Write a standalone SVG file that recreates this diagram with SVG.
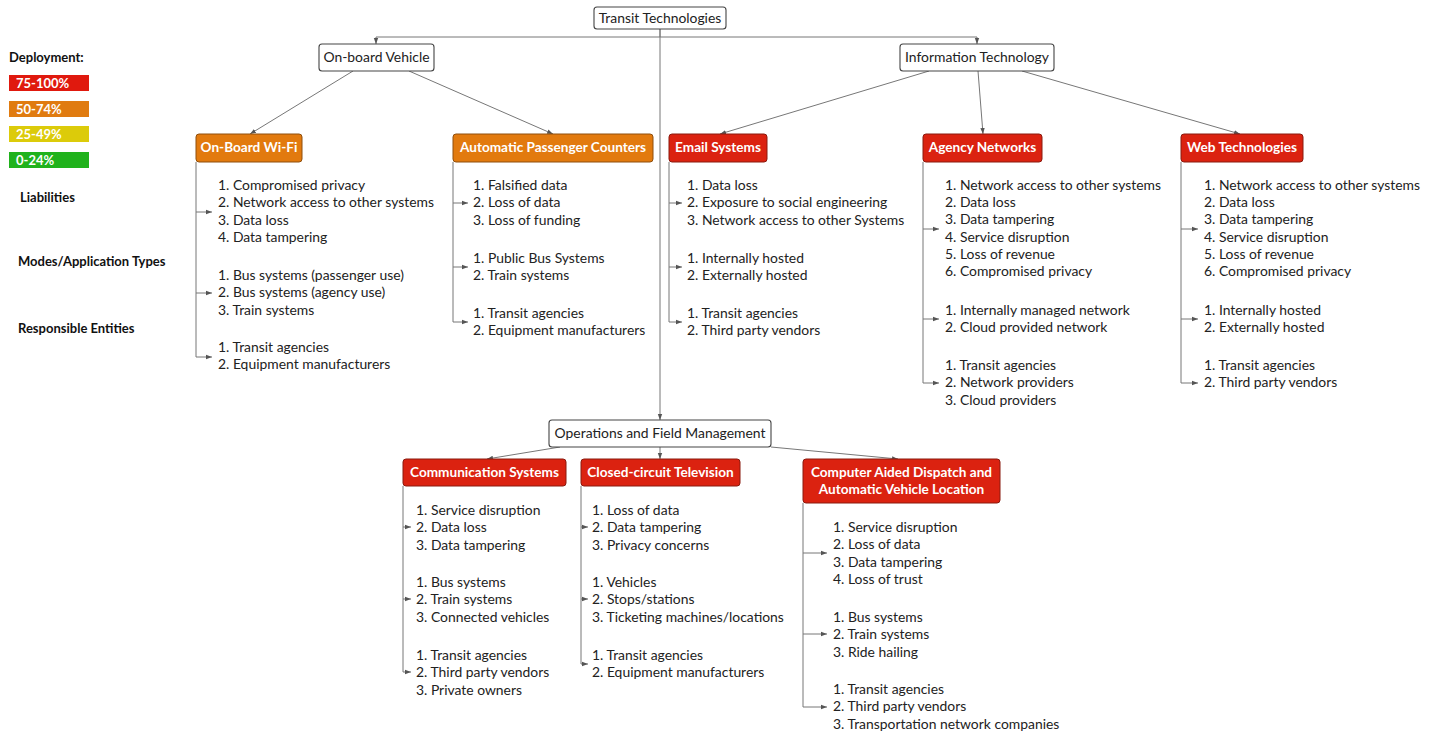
<svg xmlns="http://www.w3.org/2000/svg" width="1436" height="734" viewBox="0 0 1436 734">
<defs>
<marker id="ah" viewBox="0 0 6 6" refX="6" refY="3" markerWidth="6" markerHeight="6" orient="auto" markerUnits="userSpaceOnUse"><path d="M0,0.8 L6,3 L0,5.2 Z" fill="#555"/></marker>
<style>
text{font-family:"Lato","Liberation Sans",sans-serif;}
.t{font-size:13.9px;fill:#222;}
.n{fill:#fff;stroke:#444;stroke-width:1.1;}
.nt{font-size:13.9px;fill:#222;text-anchor:middle;}
.red{fill:#db2210;stroke:#8a1a0e;stroke-width:1;}
.org{fill:#e27a0e;stroke:#8f4e0c;stroke-width:1;}
.h{font-size:13.6px;font-weight:bold;fill:#fff;text-anchor:middle;}
.lg{font-size:13px;font-weight:bold;fill:#fff;}
.lb{font-size:13px;font-weight:bold;fill:#111;}
.c{fill:none;stroke:#777;stroke-width:1;}
.ca{fill:none;stroke:#777;stroke-width:1;marker-end:url(#ah);}
</style>
</defs>
<rect width="1436" height="734" fill="#fff"/>

<g id="legend">
<text class="lb" x="9" y="62">Deployment:</text>
<rect x="9" y="75" width="80" height="16" fill="#e0190e"/><text class="lg" x="16" y="88">75-100%</text>
<rect x="9" y="101" width="80" height="16" fill="#e07b10"/><text class="lg" x="16" y="114">50-74%</text>
<rect x="9" y="126" width="80" height="16" fill="#dccb0a"/><text class="lg" x="16" y="139">25-49%</text>
<rect x="9" y="152" width="80" height="16" fill="#20b21c"/><text class="lg" x="16" y="165">0-24%</text>
<text class="lb" x="20" y="202">Liabilities</text>
<text class="lb" x="18" y="266">Modes/Application Types</text>
<text class="lb" x="18" y="333">Responsible Entities</text>
</g>

<g id="connectors">
<path class="c" d="M660,29 V37"/>
<path class="ca" d="M660,37 H376 V44"/>
<path class="ca" d="M660,37 H977 V44"/>
<path class="ca" d="M660,29 V420"/>
<path class="ca" d="M353,71 L250,134"/>
<path class="ca" d="M409,71 L553,134"/>
<path class="ca" d="M929,71 L720,134"/>
<path class="ca" d="M978,71 L983,134"/>
<path class="ca" d="M1022,71 L1240,134"/>
<path class="ca" d="M560,447 L487,459"/>
<path class="ca" d="M660,447 V459"/>
<path class="ca" d="M771,447 L898,459"/>
<path class="c" d="M196,162 V357"/>
<path class="ca" d="M196,212 H212"/><path class="ca" d="M196,293 H212"/><path class="ca" d="M196,357 H212"/>
<path class="c" d="M453,162 V322"/>
<path class="ca" d="M453,203 H468"/><path class="ca" d="M453,267 H468"/><path class="ca" d="M453,322 H468"/>
<path class="c" d="M669,162 V322"/>
<path class="ca" d="M669,203 H682"/><path class="ca" d="M669,267 H682"/><path class="ca" d="M669,322 H682"/>
<path class="c" d="M923,162 V383"/>
<path class="ca" d="M923,229 H939"/><path class="ca" d="M923,319 H939"/><path class="ca" d="M923,383 H939"/>
<path class="c" d="M1181,162 V383"/>
<path class="ca" d="M1181,229 H1198"/><path class="ca" d="M1181,319 H1198"/><path class="ca" d="M1181,383 H1198"/>
<path class="c" d="M403,486 V672"/>
<path class="ca" d="M403,527 H411"/><path class="ca" d="M403,599 H411"/><path class="ca" d="M403,672 H411"/>
<path class="c" d="M581,486 V664"/>
<path class="ca" d="M581,527 H588"/><path class="ca" d="M581,599 H588"/><path class="ca" d="M581,664 H588"/>
<path class="c" d="M803,503 V707"/>
<path class="ca" d="M803,553 H827"/><path class="ca" d="M803,634 H827"/><path class="ca" d="M803,707 H827"/>
</g>

<g id="transit-technologies">
<rect class="n" x="594" y="7" width="132" height="22" rx="3"/>
<text class="nt" x="660" y="23">Transit Technologies</text>
</g>
<g id="on-board-vehicle">
<rect class="n" x="319" y="44" width="115" height="27" rx="3"/>
<text class="nt" x="376.5" y="62">On-board Vehicle</text>
</g>
<g id="information-technology">
<rect class="n" x="900" y="44" width="154" height="27" rx="3"/>
<text class="nt" x="977" y="62">Information Technology</text>
</g>
<g id="operations">
<rect class="n" x="549" y="420" width="222" height="27" rx="3"/>
<text class="nt" x="660" y="438">Operations and Field Management</text>
</g>

<g id="wifi">
<rect class="org" x="196" y="134" width="106" height="28" rx="3"/>
<text class="h" x="249" y="152">On-Board Wi-Fi</text>
<text class="t" x="218" y="190">
<tspan x="218" dy="0">1. Compromised privacy</tspan><tspan x="218" dy="17.3">2. Network access to other systems</tspan><tspan x="218" dy="17.3">3. Data loss</tspan><tspan x="218" dy="17.3">4. Data tampering</tspan>
</text>
<text class="t" x="218" y="280">
<tspan x="218" dy="0">1. Bus systems (passenger use)</tspan><tspan x="218" dy="17.3">2. Bus systems (agency use)</tspan><tspan x="218" dy="17.3">3. Train systems</tspan>
</text>
<text class="t" x="218" y="352">
<tspan x="218" dy="0">1. Transit agencies</tspan><tspan x="218" dy="17.3">2. Equipment manufacturers</tspan>
</text>
</g>

<g id="apc">
<rect class="org" x="453" y="134" width="200" height="28" rx="3"/>
<text class="h" x="553" y="152">Automatic Passenger Counters</text>
<text class="t" x="473" y="190">
<tspan x="473" dy="0">1. Falsified data</tspan><tspan x="473" dy="17.3">2. Loss of data</tspan><tspan x="473" dy="17.3">3. Loss of funding</tspan>
</text>
<text class="t" x="473" y="263">
<tspan x="473" dy="0">1. Public Bus Systems</tspan><tspan x="473" dy="17.3">2. Train systems</tspan>
</text>
<text class="t" x="473" y="318">
<tspan x="473" dy="0">1. Transit agencies</tspan><tspan x="473" dy="17.3">2. Equipment manufacturers</tspan>
</text>
</g>

<g id="email">
<rect class="red" x="669" y="134" width="98" height="28" rx="3"/>
<text class="h" x="718" y="152">Email Systems</text>
<text class="t" x="687" y="190">
<tspan x="687" dy="0">1. Data loss</tspan><tspan x="687" dy="17.3">2. Exposure to social engineering</tspan><tspan x="687" dy="17.3">3. Network access to other Systems</tspan>
</text>
<text class="t" x="687" y="263">
<tspan x="687" dy="0">1. Internally hosted</tspan><tspan x="687" dy="17.3">2. Externally hosted</tspan>
</text>
<text class="t" x="687" y="318">
<tspan x="687" dy="0">1. Transit agencies</tspan><tspan x="687" dy="17.3">2. Third party vendors</tspan>
</text>
</g>

<g id="agency-networks">
<rect class="red" x="923" y="134" width="119" height="28" rx="3"/>
<text class="h" x="982.5" y="152">Agency Networks</text>
<text class="t" x="945" y="190">
<tspan x="945" dy="0">1. Network access to other systems</tspan><tspan x="945" dy="17.2">2. Data loss</tspan><tspan x="945" dy="17.2">3. Data tampering</tspan><tspan x="945" dy="17.2">4. Service disruption</tspan><tspan x="945" dy="17.2">5. Loss of revenue</tspan><tspan x="945" dy="17.2">6. Compromised privacy</tspan>
</text>
<text class="t" x="945" y="315">
<tspan x="945" dy="0">1. Internally managed network</tspan><tspan x="945" dy="17.3">2. Cloud provided network</tspan>
</text>
<text class="t" x="945" y="370">
<tspan x="945" dy="0">1. Transit agencies</tspan><tspan x="945" dy="17.3">2. Network providers</tspan><tspan x="945" dy="17.3">3. Cloud providers</tspan>
</text>
</g>

<g id="web-technologies">
<rect class="red" x="1181" y="134" width="122" height="28" rx="3"/>
<text class="h" x="1242" y="152">Web Technologies</text>
<text class="t" x="1204" y="190">
<tspan x="1204" dy="0">1. Network access to other systems</tspan><tspan x="1204" dy="17.2">2. Data loss</tspan><tspan x="1204" dy="17.2">3. Data tampering</tspan><tspan x="1204" dy="17.2">4. Service disruption</tspan><tspan x="1204" dy="17.2">5. Loss of revenue</tspan><tspan x="1204" dy="17.2">6. Compromised privacy</tspan>
</text>
<text class="t" x="1204" y="315">
<tspan x="1204" dy="0">1. Internally hosted</tspan><tspan x="1204" dy="17.3">2. Externally hosted</tspan>
</text>
<text class="t" x="1204" y="370">
<tspan x="1204" dy="0">1. Transit agencies</tspan><tspan x="1204" dy="17.3">2. Third party vendors</tspan>
</text>
</g>

<g id="communication-systems">
<rect class="red" x="403" y="459" width="163" height="27" rx="3"/>
<text class="h" x="484.5" y="477">Communication Systems</text>
<text class="t" x="416" y="515">
<tspan x="416" dy="0">1. Service disruption</tspan><tspan x="416" dy="17.3">2. Data loss</tspan><tspan x="416" dy="17.3">3. Data tampering</tspan>
</text>
<text class="t" x="416" y="587">
<tspan x="416" dy="0">1. Bus systems</tspan><tspan x="416" dy="17.3">2. Train systems</tspan><tspan x="416" dy="17.3">3. Connected vehicles</tspan>
</text>
<text class="t" x="416" y="660">
<tspan x="416" dy="0">1. Transit agencies</tspan><tspan x="416" dy="17.3">2. Third party vendors</tspan><tspan x="416" dy="17.3">3. Private owners</tspan>
</text>
</g>

<g id="cctv">
<rect class="red" x="581" y="459" width="159" height="27" rx="3"/>
<text class="h" x="660.5" y="477">Closed-circuit Television</text>
<text class="t" x="592" y="515">
<tspan x="592" dy="0">1. Loss of data</tspan><tspan x="592" dy="17.3">2. Data tampering</tspan><tspan x="592" dy="17.3">3. Privacy concerns</tspan>
</text>
<text class="t" x="592" y="587">
<tspan x="592" dy="0">1. Vehicles</tspan><tspan x="592" dy="17.3">2. Stops/stations</tspan><tspan x="592" dy="17.3">3. Ticketing machines/locations</tspan>
</text>
<text class="t" x="592" y="660">
<tspan x="592" dy="0">1. Transit agencies</tspan><tspan x="592" dy="17.3">2. Equipment manufacturers</tspan>
</text>
</g>

<g id="cad-avl">
<rect class="red" x="803" y="459" width="197" height="44" rx="3"/>
<text class="h" x="901.5" y="477">Computer Aided Dispatch and</text>
<text class="h" x="901.5" y="494">Automatic Vehicle Location</text>
<text class="t" x="833" y="532">
<tspan x="833" dy="0">1. Service disruption</tspan><tspan x="833" dy="17.3">2. Loss of data</tspan><tspan x="833" dy="17.3">3. Data tampering</tspan><tspan x="833" dy="17.3">4. Loss of trust</tspan>
</text>
<text class="t" x="833" y="622">
<tspan x="833" dy="0">1. Bus systems</tspan><tspan x="833" dy="17.3">2. Train systems</tspan><tspan x="833" dy="17.3">3. Ride hailing</tspan>
</text>
<text class="t" x="833" y="694">
<tspan x="833" dy="0">1. Transit agencies</tspan><tspan x="833" dy="17.3">2. Third party vendors</tspan><tspan x="833" dy="17.3">3. Transportation network companies</tspan>
</text>
</g>
</svg>
